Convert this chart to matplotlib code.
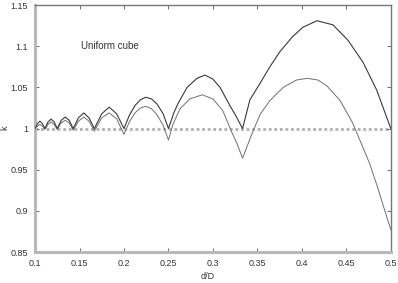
import matplotlib
matplotlib.use('Agg')
import matplotlib.pyplot as plt
from matplotlib.ticker import FuncFormatter

############################################################
# Data

x_upper = [0.1000, 0.1028, 0.1055, 0.1083, 0.1111, 0.1146, 0.1181, 0.1215, 0.1250,
           0.1295, 0.1339, 0.1384, 0.1429, 0.1488, 0.1548, 0.1607, 0.1667,
           0.1750, 0.1833, 0.1917, 0.2000, 0.2060, 0.2124, 0.2185, 0.2245,
           0.2310, 0.2370, 0.2440, 0.2500, 0.2560, 0.2610, 0.2710, 0.2820,
           0.2910, 0.3000, 0.3080, 0.3190, 0.3260, 0.3333, 0.3416, 0.3530,
           0.3640, 0.3750, 0.3890, 0.4010, 0.4170, 0.4350, 0.4520, 0.4690,
           0.4840, 0.5000]
k_upper = [1.000, 1.006, 1.009, 1.006, 1.000, 1.008, 1.0115, 1.008, 1.000,
           1.010, 1.014, 1.010, 1.000, 1.013, 1.019, 1.013, 1.000,
           1.018, 1.026, 1.018, 1.000, 1.016, 1.028, 1.035, 1.038,
           1.036, 1.030, 1.018, 1.000, 1.019, 1.031, 1.050, 1.061,
           1.065, 1.060, 1.050, 1.028, 1.015, 1.000, 1.035, 1.055,
           1.075, 1.093, 1.111, 1.123, 1.131, 1.126, 1.107, 1.080,
           1.047, 1.000]

x_lower = [0.1000, 0.1028, 0.1055, 0.1083, 0.1111, 0.1146, 0.1181, 0.1215, 0.1250,
           0.1295, 0.1339, 0.1384, 0.1429, 0.1488, 0.1548, 0.1607, 0.1667,
           0.1750, 0.1833, 0.1917, 0.2000, 0.2060, 0.2124, 0.2185, 0.2245,
           0.2310, 0.2370, 0.2440, 0.2500, 0.2550, 0.2630, 0.2740, 0.2880,
           0.3000, 0.3110, 0.3210, 0.3270, 0.3333, 0.3440, 0.3530, 0.3640,
           0.3790, 0.3940, 0.4060, 0.4180, 0.4280, 0.4430, 0.4570, 0.4690,
           0.4760, 0.4850, 0.4930, 0.5000]
k_lower = [0.999, 1.003, 1.005, 1.003, 0.999, 1.005, 1.008, 1.005, 0.999,
           1.007, 1.010, 1.007, 0.998, 1.009, 1.014, 1.009, 0.997,
           1.013, 1.019, 1.012, 0.993, 1.008, 1.019, 1.025, 1.027,
           1.024, 1.017, 1.004, 0.986, 1.005, 1.024, 1.036, 1.041,
           1.036, 1.022, 0.996, 0.982, 0.964, 0.994, 1.017, 1.034,
           1.050, 1.059, 1.061, 1.059, 1.052, 1.034, 1.007, 0.976,
           0.958, 0.929, 0.901, 0.877]

x_ticks = [0.1, 0.15, 0.2, 0.25, 0.3, 0.35, 0.4, 0.45, 0.5]
y_ticks = [0.85, 0.9, 0.95, 1.0, 1.05, 1.1, 1.15]

############################################################
# Plotting

plt.rcParams['font.family'] = ['Liberation Sans', 'DejaVu Sans']

fig = plt.figure(figsize=(3.98, 2.83), dpi=100)
ax = fig.add_axes([0.088, 0.1095, 0.894, 0.8725])

ax.axhline(1.0, color='#b0b0b0', lw=2.0, ls=(0, (1, 1)), zorder=1)
ax.plot(x_upper, k_upper, color='#3a3a3a', lw=0.8, zorder=3)
ax.plot(x_lower, k_lower, color='#707070', lw=0.7, zorder=2)

ax.set_xlim(0.1, 0.5)
ax.set_ylim(0.85, 1.15)
ax.set_xticks(x_ticks)
ax.set_yticks(y_ticks)
ax.xaxis.set_major_formatter(FuncFormatter(lambda v, p: '%g' % v))
ax.yaxis.set_major_formatter(FuncFormatter(lambda v, p: '%g' % v))
ax.tick_params(direction='in', length=3, width=0.6, labelsize=6.5,
               colors='#555555', top=True, right=True, pad=5)
ax.tick_params(labelcolor='#333333')

for side in ['left', 'bottom']:
    ax.spines[side].set_color('#b8b8b8')
    ax.spines[side].set_linewidth(2.2)
for side in ['top', 'right']:
    ax.spines[side].set_color('#777777')
    ax.spines[side].set_linewidth(1.0)

ax.text(0.184, 1.1006, 'Uniform cube', fontsize=7, color='#333333',
        ha='center', va='center')

fig.text(0.012, 0.548, 'k', rotation=90, fontsize=6.5, color='#333333',
         ha='center', va='center')
fig.text(0.523, 0.022, 'd/D', fontsize=6.5, color='#333333',
         ha='center', va='center')

fig.savefig('out.png', dpi=100)
